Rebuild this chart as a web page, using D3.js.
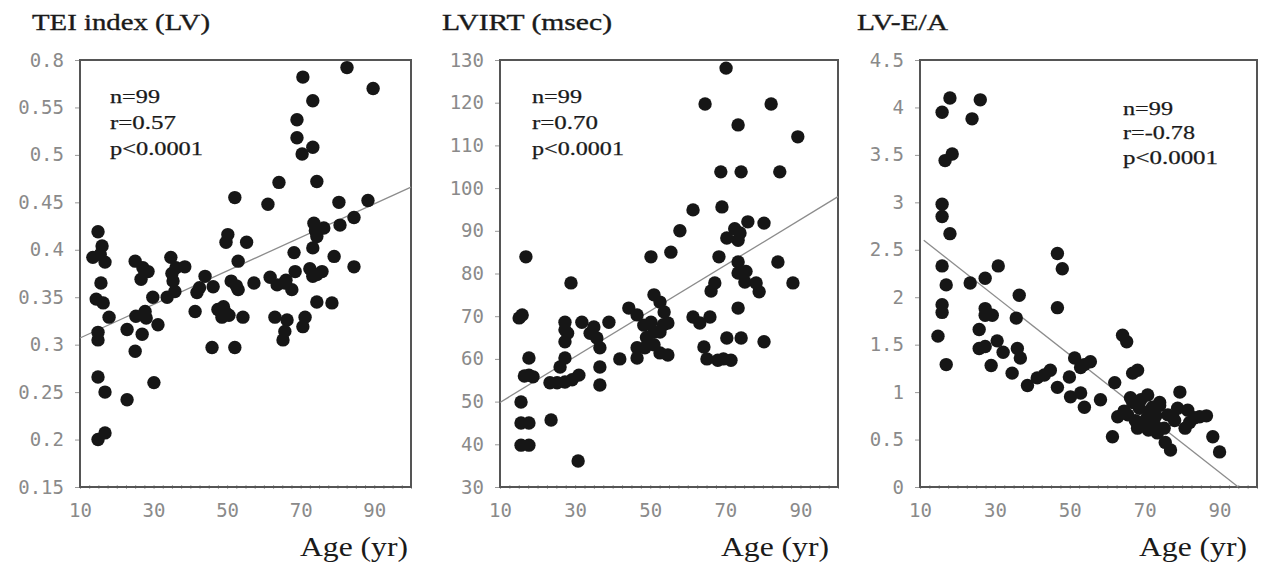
<!DOCTYPE html>
<html><head><meta charset="utf-8">
<script src="https://cdn.jsdelivr.net/npm/d3@7"></script>
<style>body{margin:0;background:#fff}svg{display:block}</style>
</head><body><svg id="c" width="1265" height="567"></svg>
<script>
// ---------- data ----------
const xTicks = [10, 30, 50, 70, 90];
const xTickLabels = ["10", "30", "50", "70", "90"];

const titles = ["TEI index (LV)", "LVIRT (msec)", "LV-E/A"];
const xAxisTitle = "Age (yr)";

const yTicks1 = [0.15, 0.2, 0.25, 0.3, 0.35, 0.4, 0.45, 0.5, 0.55, 0.6];
const yTickLabels1 = ["0.15", "0.2", "0.25", "0.3", "0.35", "0.4", "0.45", "0.5", "0.55", "0.8"];
const yTicks2 = [30, 40, 50, 60, 70, 80, 90, 100, 110, 120, 130];
const yTickLabels2 = ["30", "40", "50", "60", "70", "80", "90", "100", "110", "120", "130"];
const yTicks3 = [0, 0.5, 1, 1.5, 2, 2.5, 3, 3.5, 4, 4.5];
const yTickLabels3 = ["0", "0.5", "1", "1.5", "2", "2.5", "3", "3.5", "4", "4.5"];

const stats1 = ["n=99", "r=0.57", "p<0.0001"];
const stats2 = ["n=99", "r=0.70", "p<0.0001"];
const stats3 = ["n=99", "r=-0.78", "p<0.0001"];

// [age, value]
const tei = [
 [14.9,0.419],[16.0,0.404],[13.5,0.392],[16.8,0.387],[15.7,0.365],[14.4,0.348],[16.3,0.344],[17.9,0.329],
 [14.9,0.313],[14.9,0.305],[14.9,0.266],[16.8,0.250],[22.8,0.242],[30.1,0.260],[14.9,0.200],[16.8,0.207],
 [25.0,0.388],[27.1,0.381],[28.5,0.377],[26.6,0.369],[25.2,0.330],[27.7,0.335],[29.8,0.350],[22.8,0.316],
 [26.9,0.311],[25.0,0.293],[31.2,0.321],[33.7,0.350],[34.7,0.392],[36.1,0.381],[38.5,0.382],[35.3,0.367],
 [35.8,0.356],[44.0,0.372],[46.2,0.361],[41.8,0.355],[41.3,0.335],[47.5,0.337],[48.6,0.329],[49.4,0.335],
 [45.9,0.297],[52.1,0.297],[52.1,0.455],[50.2,0.416],[49.7,0.408],[53.0,0.388],[51.1,0.367],[53.0,0.358],
 [54.3,0.329],[55.3,0.408],
 [70.6,0.582],[82.6,0.592],[89.7,0.570],[73.3,0.557],[69.0,0.537],[69.0,0.518],[73.3,0.508],[70.4,0.501],
 [64.1,0.471],[74.4,0.472],[61.1,0.448],[80.4,0.450],[88.3,0.452],[73.6,0.428],[76.3,0.423],[80.7,0.426],
 [84.5,0.434],[74.4,0.414],[73.3,0.402],[68.2,0.397],[79.1,0.393],[84.5,0.382],[68.5,0.377],[74.4,0.374],
 [75.8,0.377],[73.3,0.372],[57.3,0.365],[61.7,0.371],[63.6,0.363],[65.7,0.365],[67.6,0.358],[74.4,0.345],
 [78.5,0.344],[63.0,0.329],[66.3,0.326],[71.2,0.329],[70.6,0.319],[65.7,0.314],[65.2,0.305],
 [15.5,0.395],[35.0,0.375],[49.0,0.340],[50.5,0.331],[66.0,0.368],[74.0,0.420],[72.5,0.380],[28.0,0.328],
 [42.5,0.360],[52.5,0.362]
];
const lvirt = [
 [16.9,83.9],[28.9,77.8],[15.1,69.6],[15.9,70.3],[17.7,60.2],[17.7,56.2],[18.8,55.8],[15.6,49.9],
 [15.6,45.0],[17.7,45.0],[15.6,39.8],[17.7,39.8],[23.6,45.7],[30.8,36.1],[27.3,68.6],[27.3,66.8],
 [27.3,64.0],[27.3,60.2],[26.0,58.1],[23.3,54.4],[25.2,54.4],[27.3,54.6],[29.2,55.1],[31.0,56.2],
 [31.8,68.6],[35.0,67.5],[35.8,64.9],[36.6,62.6],[36.6,58.1],[36.6,53.9],[39.0,68.6],[41.9,60.0],
 [44.3,71.9],[46.5,70.3],[48.3,67.9],[51.0,75.0],[52.6,73.3],[50.2,68.6],[51.0,66.3],[52.6,66.3],
 [46.5,62.6],[46.5,60.2],[48.6,62.6],[51.0,63.3],[52.6,61.4],[50.2,83.9],[55.5,85.0],[53.7,71.0],
 [70.2,128.1],[64.6,119.7],[82.2,119.7],[73.4,114.8],[89.3,112.0],[68.8,103.8],[74.2,103.8],[84.5,103.8],
 [61.4,94.9],[69.1,95.6],[57.9,90.0],[70.4,88.3],[73.9,89.5],[76.0,92.1],[80.3,91.8],[73.4,87.8],
 [68.3,83.9],[73.4,82.7],[84.0,82.7],[73.4,80.1],[75.2,78.0],[78.2,77.8],[79.0,75.7],[88.0,77.8],
 [67.2,77.8],[66.2,75.9],[73.4,71.9],[61.4,69.8],[63.2,68.4],[65.9,69.8],[54.7,68.4],[54.7,60.9],
 [70.4,64.9],[74.2,64.9],[80.3,64.0],[64.3,62.8],[65.1,60.0],[68.0,59.7],[71.5,59.7],
 [28.0,66.0],[34.0,66.0],[49.0,65.0],[53.5,68.0],[72.5,90.5],[75.5,80.5],[69.5,60.0],[16.5,56.0]
];
const ea = [
 [18.0,4.10],[15.9,3.95],[26.1,4.08],[23.9,3.88],[18.6,3.51],[16.7,3.44],[15.9,2.98],[15.9,2.85],
 [18.0,2.67],[15.9,2.33],[17.0,2.13],[15.9,1.92],[15.9,1.84],[14.8,1.59],[17.0,1.29],[23.4,2.15],
 [27.4,2.20],[30.9,2.33],[36.5,2.02],[35.7,1.78],[27.4,1.88],[27.4,1.81],[29.3,1.81],[25.8,1.66],
 [25.8,1.46],[27.4,1.48],[30.6,1.54],[32.2,1.42],[29.0,1.28],[34.6,1.20],[36.0,1.46],[36.8,1.36],
 [38.7,1.07],[41.3,1.15],[43.2,1.18],[44.8,1.23],[46.7,1.05],[46.7,2.46],[48.0,2.30],[46.7,1.89],
 [49.9,1.16],[51.3,1.36],[52.9,1.26],[50.2,0.95],[52.9,0.99],[53.9,0.84],[53.9,1.29],
 [64.1,1.60],[65.2,1.53],[66.8,1.20],[68.1,1.23],[62.0,1.10],[79.4,1.00],[55.5,1.32],[58.2,0.92],
 [66.2,0.94],[70.8,0.97],[74.0,0.86],[68.6,0.83],[71.5,0.79],[65.5,0.76],[69.5,0.68],[72.7,0.65],
 [76.2,0.76],[78.8,0.83],[81.5,0.81],[84.7,0.74],[83.4,0.73],[80.8,0.62],[61.4,0.53],[73.4,0.57],
 [75.5,0.47],[76.9,0.39],[88.2,0.53],[90.0,0.37],[68.1,0.62],[75.2,0.62],
 [62.8,0.74],[66.8,0.89],[72.1,0.84],[74.0,0.89],[77.5,0.74],[70.5,0.72],[67.5,0.70],[73.0,0.75],
 [69.0,0.92],[71.0,0.60],[78.0,0.70],[64.5,0.80],[86.5,0.75],[82.0,0.68]
];
const fit1 = [[10, 0.307], [100, 0.466]];
const fit2 = [[10, 49.8], [100, 98.0]];
const fit3 = [[11, 2.6], [95, 0]];

// ---------- drawing ----------
const svg = d3.select("#c");
svg.append("rect").attr("width", 1265).attr("height", 567).attr("fill", "#fff");
const defs = svg.append("defs");
defs.append("filter").attr("id", "soft").append("feGaussianBlur").attr("stdDeviation", 0.7);

const plotTop = 60, plotBottom = 487;
const panels = [
  {left: 80, right: 411, domain: [0.15, 0.6], ticks: yTicks1, labels: yTickLabels1, data: tei, fit: fit1,
   title: titles[0], titleX: 32, titleW: 178, stats: stats1, statX: 110, statY: [103, 129, 155], statW: [50, 66, 93],
   ageX: 408},
  {left: 500, right: 838, domain: [30, 130], ticks: yTicks2, labels: yTickLabels2, data: lvirt, fit: fit2,
   title: titles[1], titleX: 442, titleW: 170, stats: stats2, statX: 532, statY: [103, 129, 155], statW: [50, 66, 92],
   ageX: 829},
  {left: 920, right: 1257, domain: [0, 4.5], ticks: yTicks3, labels: yTickLabels3, data: ea, fit: fit3,
   title: titles[2], titleX: 857, titleW: 91, stats: stats3, statX: 1123, statY: [115, 139, 164], statW: [50, 72, 95],
   ageX: 1247}
];

panels.forEach(p => {
  const x = d3.scaleLinear().domain([10, 100]).range([p.left, p.right]);
  const y = d3.scaleLinear().domain(p.domain).range([plotBottom, plotTop]);
  const g = svg.append("g");

  // title
  g.append("text").attr("x", p.titleX).attr("y", 30)
    .attr("font-family", "Liberation Serif").attr("font-size", 23).attr("fill", "#1a1a1a")
    .attr("stroke", "#1a1a1a").attr("stroke-width", 0.35)
    .attr("textLength", p.titleW).attr("lengthAdjust", "spacingAndGlyphs").text(p.title);

  // y axis
  const ya = d3.axisLeft(y).tickValues(p.ticks).tickSize(5).tickPadding(11)
    .tickFormat((d, i) => p.labels[i]);
  const yg = g.append("g").attr("transform", `translate(${p.left},0)`).call(ya);
  yg.select(".domain").remove();
  yg.selectAll("line").attr("stroke", "#999");
  yg.selectAll("text").attr("font-family", "DejaVu Sans Mono").attr("font-size", 19).attr("fill", "#8a8a8a");

  // x axis (minor ticks + labels)
  const minor = d3.range(10, 100.1, 2.5);
  const xm = d3.axisBottom(x).tickValues(minor).tickSize(4).tickFormat("");
  const xmg = g.append("g").attr("transform", `translate(0,${plotBottom - 2})`).call(xm);
  xmg.select(".domain").remove();
  xmg.selectAll("line").attr("stroke", "#aaa");
  const xa = d3.axisBottom(x).tickValues(xTicks).tickSize(0).tickPadding(17)
    .tickFormat((d, i) => xTickLabels[i]);
  const xg = g.append("g").attr("transform", `translate(0,${plotBottom})`).call(xa);
  xg.select(".domain").remove();
  xg.selectAll("text").attr("font-family", "DejaVu Sans Mono").attr("font-size", 19).attr("fill", "#8a8a8a");

  // frame
  g.append("rect").attr("x", p.left).attr("y", plotTop).attr("width", p.right - p.left).attr("height", plotBottom - plotTop)
    .attr("fill", "none").attr("stroke", "#555").attr("stroke-width", 2);

  // regression line
  g.append("path").datum(p.fit)
    .attr("d", d3.line().x(d => x(d[0])).y(d => y(d[1])))
    .attr("stroke", "#8c8c8c").attr("stroke-width", 1.3).attr("fill", "none");

  // points
  g.append("g").attr("filter", "url(#soft)").selectAll("circle").data(p.data).join("circle")
    .attr("cx", d => x(d[0])).attr("cy", d => y(d[1])).attr("r", 6.7).attr("fill", "#151515");

  // stats
  p.stats.forEach((s, i) => {
    g.append("text").attr("x", p.statX).attr("y", p.statY[i])
      .attr("font-family", "Liberation Serif").attr("font-size", 19).attr("fill", "#1a1a1a")
      .attr("stroke", "#1a1a1a").attr("stroke-width", 0.25)
      .attr("textLength", p.statW[i]).attr("lengthAdjust", "spacingAndGlyphs").text(s);
  });

  // x axis title
  g.append("text").attr("x", p.ageX - 108).attr("y", 556)
    .attr("font-family", "Liberation Serif").attr("font-size", 28).attr("fill", "#1a1a1a")
    .attr("textLength", 108).attr("lengthAdjust", "spacingAndGlyphs").text(xAxisTitle);
});
</script></body></html>
